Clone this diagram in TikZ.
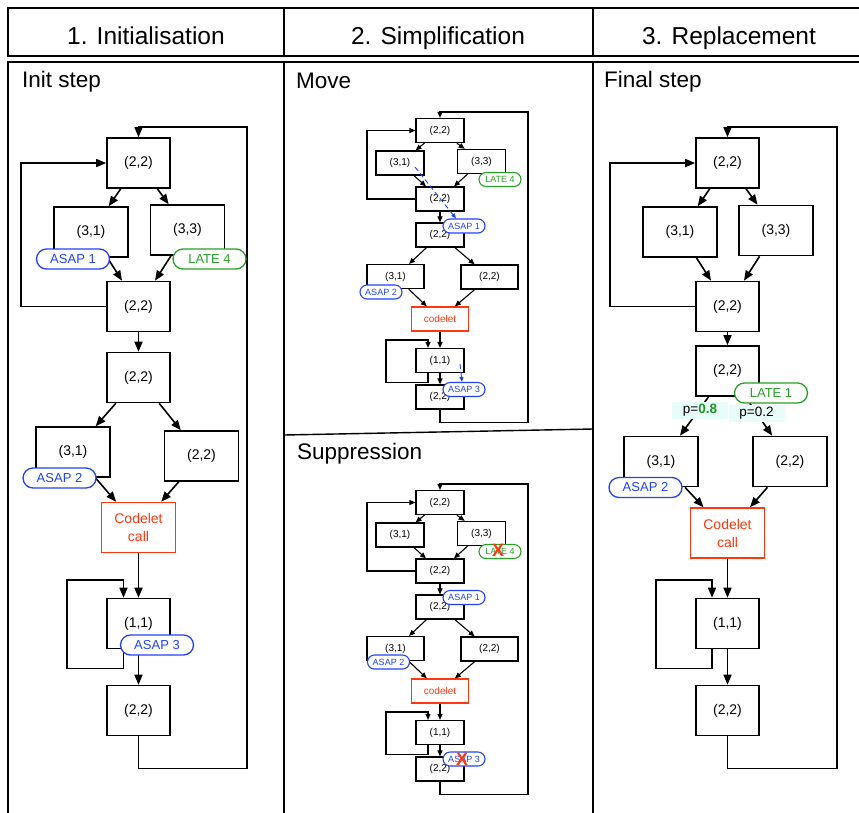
\documentclass[tikz,border=0pt]{standalone}
\usepackage{fontspec}
\setmainfont{Liberation Sans}
\usetikzlibrary{arrows.meta}

\definecolor{asapblue}{RGB}{35,65,250}
\definecolor{lategreen}{RGB}{40,160,40}
\definecolor{boldgreen}{RGB}{30,150,30}
\definecolor{codered}{RGB}{255,55,15}
\definecolor{probcyan}{RGB}{232,252,252}

\tikzset{
  frame/.style={line width=1.4pt},
  headtext/.style={inner sep=0pt,font=\fontsize{24.5}{28}\selectfont},
  titletext/.style={inner sep=0pt,font=\fontsize{22.5}{26}\selectfont},
  statebox/.style={draw,line width=1.6pt,fill=white,inner sep=0pt,minimum width=63pt,minimum height=50pt,font=\fontsize{14}{18}\selectfont},
  widestate/.style={statebox,minimum width=74pt},
  codeletbox/.style={widestate,draw=codered,text=codered,align=center},
  labeltag/.style={draw,line width=1.3pt,fill=white,inner sep=0pt,rounded corners=10pt,minimum width=73pt,minimum height=20pt,font=\fontsize{13}{15}\selectfont},
  asaptag/.style={labeltag,draw=asapblue,text=asapblue},
  latetag/.style={labeltag,draw=lategreen,text=lategreen},
  problabel/.style={fill=probcyan,inner sep=0pt,minimum width=56pt,minimum height=17pt,font=\fontsize{13.5}{15}\selectfont},
  flow/.style={-{Triangle[length=10pt,width=8pt]},line width=1.6pt},
  smallstate/.style={draw,line width=1.2pt,fill=white,inner sep=0pt,minimum width=48pt,minimum height=24pt,font=\fontsize{10}{12}\selectfont},
  smallwide/.style={smallstate,minimum width=57pt},
  smallcodelet/.style={smallwide,draw=codered,text=codered},
  smalltag/.style={draw,line width=1.1pt,fill=white,inner sep=0pt,rounded corners=7pt,minimum width=42pt,minimum height=14pt,font=\fontsize{9}{10}\selectfont},
  smallasap/.style={smalltag,draw=asapblue,text=asapblue},
  smalllate/.style={smalltag,draw=lategreen,text=lategreen},
  smallflow/.style={-{Triangle[length=6pt,width=5pt]},line width=1.1pt},
  moveflow/.style={-{Triangle[length=5pt,width=4pt]},draw=asapblue,line width=0.9pt,dash pattern=on 5pt off 3pt},
  strike/.style={inner sep=0pt,text=codered,font=\fontsize{18}{18}\selectfont\bfseries}
}

\begin{document}
\begin{tikzpicture}[x=1pt,y=-1pt]
  \useasboundingbox (0,0) rectangle (859,812);

  % header and panels
  \draw[frame] (865,8) -- (8,8) -- (8,56) -- (865,56);
  \draw[frame] (284,8) -- (284,56);
  \draw[frame] (593,8) -- (593,56);
  \draw[frame] (8,815) -- (8,62) -- (865,62);
  \draw[frame] (284,62) -- (284,815);
  \draw[frame] (593,62) -- (593,815);
  \draw[frame] (284,435) -- (593,429);

  \node[headtext,anchor=base] (hinit) at (146,44) {1. Initialisation};
  \node[headtext,anchor=base] (hsimp) at (438,44) {2. Simplification};
  \node[headtext,anchor=base] (hrepl) at (729,44) {3. Replacement};

  \node[titletext,anchor=base west] (tinit) at (22,87) {Init step};
  \node[titletext,anchor=base west] (tmove) at (296,88) {Move};
  \node[titletext,anchor=base west] (tsupp) at (297,459) {Suppression};
  \node[titletext,anchor=base west] (tfinal) at (604,87) {Final step};

  % 1. Initialisation
  \node[statebox] (i1) at (138.5,163) {(2,2)};
  \node[widestate] (i31) at (91,232) {(3,1)};
  \node[widestate] (i33) at (187.5,230) {(3,3)};
  \node[statebox] (i2) at (138.5,306.5) {(2,2)};
  \node[statebox] (i3) at (138.5,377.5) {(2,2)};
  \node[widestate] (i31b) at (73,452) {(3,1)};
  \node[widestate] (i22b) at (201.5,456) {(2,2)};
  \node[codeletbox] (icode) at (138.5,527.5) {Codelet\\call};
  \node[statebox] (i11) at (138.5,623.5) {(1,1)};
  \node[statebox] (i4) at (138.5,710.5) {(2,2)};

  \draw[flow] (i1) -- (i31);
  \draw[flow] (i1) -- (i33);
  \draw[flow] (i31) -- (i2);
  \draw[flow] (i33) -- (i2);
  \draw[flow] (i2) -- (i3);
  \draw[flow] (i3) -- (i31b);
  \draw[flow] (i3) -- (i22b);
  \draw[flow] (i31b) -- (icode);
  \draw[flow] (i22b) -- (icode);
  \draw[flow] (icode) -- (i11);
  \draw[flow] (i11) -- (i4);
  \draw[flow] (i2.west) -- (21,306.5) |- (i1.west);
  \draw[flow] ([xshift=-15pt]i11.south) -- ++(0,19) -| (67,580) -| ([xshift=-15pt]i11.north);
  \draw[flow] (i4.south) -- ++(0,32) -| (247,127) -| (i1.north);

  \node[asaptag] (iasap1) at (73,259) {ASAP 1};
  \node[latetag] (ilate4) at (209.5,259) {LATE 4};
  \node[asaptag] (iasap2) at (59.5,478) {ASAP 2};
  \node[asaptag] (iasap3) at (157,645) {ASAP 3};

  % 2. Simplification: move, then suppression
  \foreach \p/\dy in {m/0,s/372}{
    \begin{scope}[yshift=-\dy pt]
      \node[smallstate] (\p top) at (440,130.5) {(2,2)};
      \node[smallstate] (\p31) at (400,163) {(3,1)};
      \node[smallstate] (\p33) at (481.5,161.5) {(3,3)};
      \node[smallstate] (\p mid) at (440,199) {(2,2)};
      \node[smallstate] (\p low) at (440,235) {(2,2)};
      \node[smallwide] (\p31b) at (395.5,276.5) {(3,1)};
      \node[smallwide] (\p22b) at (489.5,277) {(2,2)};
      \node[smallcodelet] (\p code) at (440,319) {codelet};
      \node[smallstate] (\p11) at (440,360.5) {(1,1)};
      \node[smallstate] (\p end) at (440,397) {(2,2)};

      \draw[smallflow] (\p top) -- (\p31);
      \draw[smallflow] (\p top) -- (\p33);
      \draw[smallflow] (\p31) -- (\p mid);
      \draw[smallflow] (\p33) -- (\p mid);
      \draw[smallflow] (\p mid) -- (\p low);
      \draw[smallflow] (\p low) -- (\p31b);
      \draw[smallflow] (\p low) -- (\p22b);
      \draw[smallflow] (\p31b) -- (\p code);
      \draw[smallflow] (\p22b) -- (\p code);
      \draw[smallflow] (\p code) -- (\p11);
      \draw[smallflow] (\p11) -- (\p end);
      \draw[smallflow] (\p mid.west) -- (367,199) |- (\p top.west);
      \draw[smallflow] ([xshift=-12pt]\p11.south) -- ++(0,9) -| (386,340) -| ([xshift=-12pt]\p11.north);
      \draw[smallflow] (\p end.south) -- ++(0,13) -| (528,112) -| (\p top.north);
    \end{scope}
  }

  \node[smalllate] (mlate4) at (500,179.5) {LATE 4};
  \node[smallasap] (masap1) at (464,226) {ASAP 1};
  \node[smallasap] (masap2) at (381,292) {ASAP 2};
  \node[smallasap] (masap3) at (464,389.5) {ASAP 3};
  \coordinate (mfrom1) at (415,167);
  \coordinate (mfrom3) at (460,364);
  \draw[moveflow] (mfrom1) -- ([xshift=-8pt]masap1.north);
  \draw[moveflow] (mfrom3) -- ([xshift=-2pt]masap3.north);

  \node[smalllate] (slate4) at (500,551.5) {LATE 4};
  \node[smallasap] (sasap1) at (464,597.5) {ASAP 1};
  \node[smallasap] (sasap2) at (388.5,662) {ASAP 2};
  \node[smallasap] (sasap3) at (464,759) {ASAP 3};
  \node[strike] (sx4) at (498,550) {X};
  \node[strike] (sx3) at (462,759) {X};

  % 3. Replacement
  \node[statebox] (f1) at (727.5,163) {(2,2)};
  \node[widestate] (f31) at (680,232) {(3,1)};
  \node[widestate] (f33) at (776,230.5) {(3,3)};
  \node[statebox] (f2) at (727.5,306.5) {(2,2)};
  \node[statebox] (f3) at (727.5,371) {(2,2)};
  \node[widestate] (f31b) at (661,461.5) {(3,1)};
  \node[widestate] (f22b) at (790,461.5) {(2,2)};
  \node[codeletbox] (fcode) at (727.5,533) {Codelet\\call};
  \node[statebox] (f11) at (727.5,623.5) {(1,1)};
  \node[statebox] (f4) at (727.5,710.5) {(2,2)};

  \draw[flow] (f1) -- (f31);
  \draw[flow] (f1) -- (f33);
  \draw[flow] (f31) -- (f2);
  \draw[flow] (f33) -- (f2);
  \draw[flow] (f2) -- (f3);
  \draw[flow] (f3) -- (f31b);
  \draw[flow] (f3) -- (f22b);
  \draw[flow] (f31b) -- (fcode);
  \draw[flow] (f22b) -- (fcode);
  \draw[flow] (fcode) -- (f11);
  \draw[flow] (f11) -- (f4);
  \draw[flow] (f2.west) -- (610,306.5) |- (f1.west);
  \draw[flow] ([xshift=-15.5pt]f11.south) -- ++(0,19) -| (656,580) -| ([xshift=-15.5pt]f11.north);
  \draw[flow] (f4.south) -- ++(0,32) -| (837,127) -| (f1.north);

  \node[problabel] (fp8) at (700,410) {p=\textcolor{boldgreen}{\bfseries 0.8}};
  \node[problabel] (fp2) at (756.5,413) {p=0.2};
  \node[latetag] (flate1) at (771,393) {LATE 1};
  \node[asaptag] (fasap2) at (645.5,487.5) {ASAP 2};
\end{tikzpicture}
\end{document}
